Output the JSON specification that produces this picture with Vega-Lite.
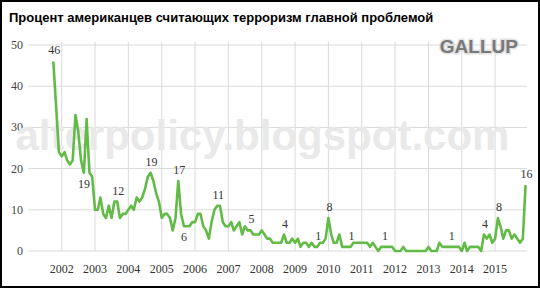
{
  "$schema": "https://vega.github.io/schema/vega-lite/v6.json",
  "width": 540,
  "height": 288,
  "autosize": {"type": "none"},
  "padding": 0,
  "background": "white",
  "title": {
    "text": "Процент американцев считающих терроризм главной проблемой",
    "anchor": "start",
    "frame": "group",
    "offset": -35,
    "baseline": "alphabetic",
    "dx": 9,
    "font": "Liberation Sans",
    "fontSize": 13,
    "fontWeight": "bold",
    "color": "#000000"
  },
  "config": {"view": {"stroke": "#000000", "strokeWidth": 4}},
  "datasets": {
    "vgrid": [
      {"yr": "2002-01-01", "label": "2002"}, {"yr": "2003-01-01", "label": "2003"}, {"yr": "2004-01-01", "label": "2004"},
      {"yr": "2005-01-01", "label": "2005"}, {"yr": "2006-01-01", "label": "2006"}, {"yr": "2007-01-01", "label": "2007"},
      {"yr": "2008-01-01", "label": "2008"}, {"yr": "2009-01-01", "label": "2009"}, {"yr": "2010-01-01", "label": "2010"},
      {"yr": "2011-01-01", "label": "2011"}, {"yr": "2012-01-01", "label": "2012"}, {"yr": "2013-01-01", "label": "2013"},
      {"yr": "2014-01-01", "label": "2014"}, {"yr": "2015-01-01", "label": "2015"}
    ],
    "hgrid": [{"g": 0}, {"g": 10}, {"g": 20}, {"g": 30}, {"g": 40}, {"g": 50}],
    "series": [
      {"date": "2001-10-01", "value": 46}, {"date": "2001-11-01", "value": 35}, {"date": "2001-12-01", "value": 24},
      {"date": "2002-01-01", "value": 23}, {"date": "2002-02-01", "value": 24}, {"date": "2002-03-01", "value": 22},
      {"date": "2002-04-01", "value": 21}, {"date": "2002-05-01", "value": 22}, {"date": "2002-06-01", "value": 33},
      {"date": "2002-07-01", "value": 29}, {"date": "2002-08-01", "value": 22}, {"date": "2002-09-01", "value": 19},
      {"date": "2002-10-01", "value": 32}, {"date": "2002-11-01", "value": 19}, {"date": "2002-12-01", "value": 18},
      {"date": "2003-01-01", "value": 10}, {"date": "2003-02-01", "value": 10}, {"date": "2003-03-01", "value": 13},
      {"date": "2003-04-01", "value": 9}, {"date": "2003-05-01", "value": 8}, {"date": "2003-06-01", "value": 11},
      {"date": "2003-07-01", "value": 8}, {"date": "2003-08-01", "value": 12}, {"date": "2003-09-01", "value": 12},
      {"date": "2003-10-01", "value": 8}, {"date": "2003-11-01", "value": 9}, {"date": "2003-12-01", "value": 9},
      {"date": "2004-01-01", "value": 10}, {"date": "2004-02-01", "value": 11}, {"date": "2004-03-01", "value": 10},
      {"date": "2004-04-01", "value": 13}, {"date": "2004-05-01", "value": 12}, {"date": "2004-06-01", "value": 13},
      {"date": "2004-07-01", "value": 15}, {"date": "2004-08-01", "value": 18}, {"date": "2004-09-01", "value": 19},
      {"date": "2004-10-01", "value": 17}, {"date": "2004-11-01", "value": 14}, {"date": "2004-12-01", "value": 12},
      {"date": "2005-01-01", "value": 8}, {"date": "2005-02-01", "value": 9}, {"date": "2005-03-01", "value": 9},
      {"date": "2005-04-01", "value": 8}, {"date": "2005-05-01", "value": 5}, {"date": "2005-06-01", "value": 8},
      {"date": "2005-07-01", "value": 17}, {"date": "2005-08-01", "value": 9}, {"date": "2005-09-01", "value": 6},
      {"date": "2005-10-01", "value": 6}, {"date": "2005-11-01", "value": 6}, {"date": "2005-12-01", "value": 7},
      {"date": "2006-01-01", "value": 7}, {"date": "2006-02-01", "value": 9}, {"date": "2006-03-01", "value": 9},
      {"date": "2006-04-01", "value": 6}, {"date": "2006-05-01", "value": 5}, {"date": "2006-06-01", "value": 3},
      {"date": "2006-07-01", "value": 7}, {"date": "2006-08-01", "value": 10}, {"date": "2006-09-01", "value": 11},
      {"date": "2006-10-01", "value": 11}, {"date": "2006-11-01", "value": 7}, {"date": "2006-12-01", "value": 6},
      {"date": "2007-01-01", "value": 6}, {"date": "2007-02-01", "value": 7}, {"date": "2007-03-01", "value": 5},
      {"date": "2007-04-01", "value": 6}, {"date": "2007-05-01", "value": 7}, {"date": "2007-06-01", "value": 4},
      {"date": "2007-07-01", "value": 6}, {"date": "2007-08-01", "value": 5}, {"date": "2007-09-01", "value": 5},
      {"date": "2007-10-01", "value": 4}, {"date": "2007-11-01", "value": 4}, {"date": "2007-12-01", "value": 4},
      {"date": "2008-01-01", "value": 5}, {"date": "2008-02-01", "value": 4}, {"date": "2008-03-01", "value": 3},
      {"date": "2008-04-01", "value": 3}, {"date": "2008-05-01", "value": 2}, {"date": "2008-06-01", "value": 2},
      {"date": "2008-07-01", "value": 2}, {"date": "2008-08-01", "value": 2}, {"date": "2008-09-01", "value": 4},
      {"date": "2008-10-01", "value": 2}, {"date": "2008-11-01", "value": 2}, {"date": "2008-12-01", "value": 3},
      {"date": "2009-01-01", "value": 2}, {"date": "2009-02-01", "value": 3}, {"date": "2009-03-01", "value": 1},
      {"date": "2009-04-01", "value": 2}, {"date": "2009-05-01", "value": 2}, {"date": "2009-06-01", "value": 1},
      {"date": "2009-07-01", "value": 2}, {"date": "2009-08-01", "value": 1}, {"date": "2009-09-01", "value": 1},
      {"date": "2009-10-01", "value": 2}, {"date": "2009-11-01", "value": 2}, {"date": "2009-12-01", "value": 3},
      {"date": "2010-01-01", "value": 8}, {"date": "2010-02-01", "value": 4}, {"date": "2010-03-01", "value": 2},
      {"date": "2010-04-01", "value": 2}, {"date": "2010-05-01", "value": 4}, {"date": "2010-06-01", "value": 1},
      {"date": "2010-07-01", "value": 1}, {"date": "2010-08-01", "value": 1}, {"date": "2010-09-01", "value": 1},
      {"date": "2010-10-01", "value": 2}, {"date": "2010-11-01", "value": 2}, {"date": "2010-12-01", "value": 2},
      {"date": "2011-01-01", "value": 2}, {"date": "2011-02-01", "value": 2}, {"date": "2011-03-01", "value": 2},
      {"date": "2011-04-01", "value": 1}, {"date": "2011-05-01", "value": 2}, {"date": "2011-06-01", "value": 1},
      {"date": "2011-07-01", "value": 0}, {"date": "2011-08-01", "value": 1}, {"date": "2011-09-01", "value": 1},
      {"date": "2011-10-01", "value": 1}, {"date": "2011-11-01", "value": 1}, {"date": "2011-12-01", "value": 1},
      {"date": "2012-01-01", "value": 0}, {"date": "2012-02-01", "value": 0}, {"date": "2012-03-01", "value": 0},
      {"date": "2012-04-01", "value": 1}, {"date": "2012-05-01", "value": 0}, {"date": "2012-06-01", "value": 0},
      {"date": "2012-07-01", "value": 0}, {"date": "2012-08-01", "value": 0}, {"date": "2012-09-01", "value": 0},
      {"date": "2012-10-01", "value": 0}, {"date": "2012-11-01", "value": 0}, {"date": "2012-12-01", "value": 0},
      {"date": "2013-01-01", "value": 1}, {"date": "2013-02-01", "value": 0}, {"date": "2013-03-01", "value": 0},
      {"date": "2013-04-01", "value": 0}, {"date": "2013-05-01", "value": 2}, {"date": "2013-06-01", "value": 1},
      {"date": "2013-07-01", "value": 1}, {"date": "2013-08-01", "value": 1}, {"date": "2013-09-01", "value": 1},
      {"date": "2013-10-01", "value": 1}, {"date": "2013-11-01", "value": 1}, {"date": "2013-12-01", "value": 1},
      {"date": "2014-01-01", "value": 0}, {"date": "2014-02-01", "value": 2}, {"date": "2014-03-01", "value": 0},
      {"date": "2014-04-01", "value": 1}, {"date": "2014-05-01", "value": 1}, {"date": "2014-06-01", "value": 1},
      {"date": "2014-07-01", "value": 1}, {"date": "2014-08-01", "value": 0}, {"date": "2014-09-01", "value": 4},
      {"date": "2014-10-01", "value": 3}, {"date": "2014-11-01", "value": 4}, {"date": "2014-12-01", "value": 2},
      {"date": "2015-01-01", "value": 3}, {"date": "2015-02-01", "value": 8}, {"date": "2015-03-01", "value": 6},
      {"date": "2015-04-01", "value": 3}, {"date": "2015-05-01", "value": 5}, {"date": "2015-06-01", "value": 5},
      {"date": "2015-07-01", "value": 3}, {"date": "2015-08-01", "value": 4}, {"date": "2015-09-01", "value": 3},
      {"date": "2015-10-01", "value": 2}, {"date": "2015-11-01", "value": 3}, {"date": "2015-12-01", "value": 16}
    ],
    "above": [
      {"date": "2001-10-01", "value": 46}, {"date": "2003-09-01", "value": 12}, {"date": "2004-09-01", "value": 19},
      {"date": "2005-07-01", "value": 17}, {"date": "2006-09-01", "value": 11}, {"date": "2007-09-01", "value": 5},
      {"date": "2008-09-01", "value": 4}, {"date": "2009-09-01", "value": 1}, {"date": "2010-01-01", "value": 8},
      {"date": "2010-09-01", "value": 1}, {"date": "2011-09-01", "value": 1}, {"date": "2013-09-01", "value": 1},
      {"date": "2014-09-01", "value": 4}, {"date": "2015-02-01", "value": 8}, {"date": "2015-12-01", "value": 16}
    ],
    "below": [
      {"date": "2002-09-01", "value": 19}, {"date": "2005-09-01", "value": 6}
    ],
    "marks": [{"watermark": "alterpolicy.blogspot.com", "logo": "GALLUP"}]
  },
  "layer": [
    {
      "data": {"name": "hgrid"},
      "mark": {"type": "rule", "color": "#dadada", "strokeWidth": 1},
      "encoding": {
        "y": {"field": "g", "type": "quantitative", "axis": null,
              "scale": {"domain": [-8.98, 60.92], "nice": false, "zero": false}},
        "x": {"datum": {"year": 2001, "month": 1, "date": 1, "utc": true}, "type": "temporal", "axis": null,
              "scale": {"type": "utc", "domain": [{"year": 2000, "month": 2, "date": 25, "utc": true}, {"year": 2016, "month": 5, "date": 7, "utc": true}]}},
        "x2": {"datum": {"year": 2015, "month": 12, "date": 16, "utc": true}}
      }
    },
    {
      "data": {"name": "vgrid"},
      "mark": {"type": "rule", "color": "#dadada", "strokeWidth": 1},
      "encoding": {
        "x": {"field": "yr", "type": "temporal", "axis": null,
              "scale": {"type": "utc", "domain": [{"year": 2000, "month": 2, "date": 25, "utc": true}, {"year": 2016, "month": 5, "date": 7, "utc": true}]}},
        "y": {"datum": 0, "type": "quantitative", "axis": null,
              "scale": {"domain": [-8.98, 60.92], "nice": false, "zero": false}},
        "y2": {"datum": 50.75}
      }
    },
    {
      "data": {"name": "vgrid"},
      "mark": {"type": "text", "font": "Liberation Serif", "fontSize": 12, "color": "#333333", "align": "center", "baseline": "middle"},
      "encoding": {
        "text": {"field": "label"},
        "x": {"field": "yr", "type": "temporal", "axis": null,
              "scale": {"type": "utc", "domain": [{"year": 2000, "month": 2, "date": 25, "utc": true}, {"year": 2016, "month": 5, "date": 7, "utc": true}]}},
        "y": {"datum": -4.3, "type": "quantitative", "axis": null,
              "scale": {"domain": [-8.98, 60.92], "nice": false, "zero": false}}
      }
    },
    {
      "data": {"name": "hgrid"},
      "mark": {"type": "text", "font": "Liberation Serif", "fontSize": 12, "color": "#444444", "align": "right", "baseline": "middle"},
      "encoding": {
        "text": {"field": "g", "type": "quantitative"},
        "y": {"field": "g", "type": "quantitative", "axis": null,
              "scale": {"domain": [-8.98, 60.92], "nice": false, "zero": false}},
        "x": {"datum": {"year": 2000, "month": 11, "date": 3, "utc": true}, "type": "temporal", "axis": null,
              "scale": {"type": "utc", "domain": [{"year": 2000, "month": 2, "date": 25, "utc": true}, {"year": 2016, "month": 5, "date": 7, "utc": true}]}}
      }
    },
    {
      "data": {"name": "marks"},
      "mark": {"type": "text", "font": "Liberation Sans", "fontWeight": "bold", "fontSize": 42, "color": "#e9e9e9", "align": "center", "baseline": "alphabetic"},
      "encoding": {
        "text": {"field": "watermark"},
        "x": {"datum": {"year": 2008, "month": 1, "date": 9, "utc": true}, "type": "temporal", "axis": null,
              "scale": {"type": "utc", "domain": [{"year": 2000, "month": 2, "date": 25, "utc": true}, {"year": 2016, "month": 5, "date": 7, "utc": true}]}},
        "y": {"datum": 24.5, "type": "quantitative", "axis": null,
              "scale": {"domain": [-8.98, 60.92], "nice": false, "zero": false}}
      }
    },
    {
      "data": {"name": "marks"},
      "mark": {"type": "text", "font": "Liberation Sans", "fontWeight": "bold", "fontSize": 19, "fill": "#cfcfcf", "stroke": "#d8d8d8", "strokeWidth": 3, "strokeOpacity": 0.7, "align": "center", "baseline": "middle"},
      "encoding": {
        "text": {"field": "logo"},
        "x": {"datum": {"year": 2014, "month": 7, "date": 7, "utc": true}, "type": "temporal", "axis": null,
              "scale": {"type": "utc", "domain": [{"year": 2000, "month": 2, "date": 25, "utc": true}, {"year": 2016, "month": 5, "date": 7, "utc": true}]}},
        "y": {"datum": 49.5, "type": "quantitative", "axis": null,
              "scale": {"domain": [-8.98, 60.92], "nice": false, "zero": false}}
      }
    },
    {
      "data": {"name": "marks"},
      "mark": {"type": "text", "font": "Liberation Sans", "fontWeight": "bold", "fontSize": 19, "color": "#7a7a7a", "align": "center", "baseline": "middle"},
      "encoding": {
        "text": {"field": "logo"},
        "x": {"datum": {"year": 2014, "month": 7, "date": 7, "utc": true}, "type": "temporal", "axis": null,
              "scale": {"type": "utc", "domain": [{"year": 2000, "month": 2, "date": 25, "utc": true}, {"year": 2016, "month": 5, "date": 7, "utc": true}]}},
        "y": {"datum": 49.5, "type": "quantitative", "axis": null,
              "scale": {"domain": [-8.98, 60.92], "nice": false, "zero": false}}
      }
    },
    {
      "data": {"name": "series"},
      "mark": {"type": "line", "color": "#62bb46", "strokeWidth": 2.6, "strokeJoin": "round"},
      "encoding": {
        "x": {"field": "date", "type": "temporal", "axis": null,
              "scale": {"type": "utc", "domain": [{"year": 2000, "month": 2, "date": 25, "utc": true}, {"year": 2016, "month": 5, "date": 7, "utc": true}]}},
        "y": {"field": "value", "type": "quantitative", "axis": null,
              "scale": {"domain": [-8.98, 60.92], "nice": false, "zero": false}}
      }
    },
    {
      "data": {"name": "above"},
      "mark": {"type": "text", "font": "Liberation Serif", "fontSize": 12, "color": "#333333", "dy": -11, "dx": 1, "baseline": "middle"},
      "encoding": {
        "text": {"field": "value", "type": "quantitative"},
        "x": {"field": "date", "type": "temporal", "axis": null,
              "scale": {"type": "utc", "domain": [{"year": 2000, "month": 2, "date": 25, "utc": true}, {"year": 2016, "month": 5, "date": 7, "utc": true}]}},
        "y": {"field": "value", "type": "quantitative", "axis": null,
              "scale": {"domain": [-8.98, 60.92], "nice": false, "zero": false}}
      }
    },
    {
      "data": {"name": "below"},
      "mark": {"type": "text", "font": "Liberation Serif", "fontSize": 12, "color": "#333333", "dy": 11, "dx": 0, "baseline": "middle"},
      "encoding": {
        "text": {"field": "value", "type": "quantitative"},
        "x": {"field": "date", "type": "temporal", "axis": null,
              "scale": {"type": "utc", "domain": [{"year": 2000, "month": 2, "date": 25, "utc": true}, {"year": 2016, "month": 5, "date": 7, "utc": true}]}},
        "y": {"field": "value", "type": "quantitative", "axis": null,
              "scale": {"domain": [-8.98, 60.92], "nice": false, "zero": false}}
      }
    }
  ]
}
